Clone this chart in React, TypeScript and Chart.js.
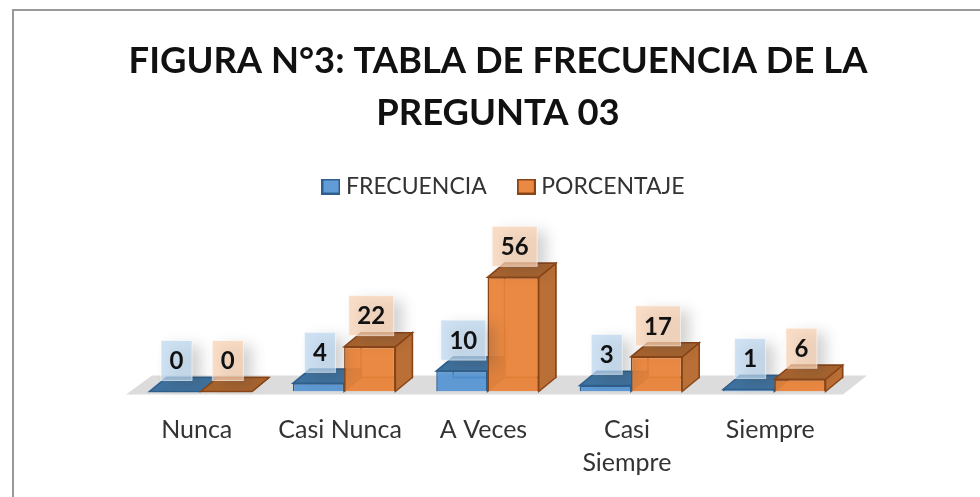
import React, { useEffect, useRef } from "react";
import { Chart, registerables } from "chart.js";

Chart.register(...registerables);

const categories = ["Nunca", "Casi Nunca", "A Veces", "Casi Siempre", "Siempre"];
const tickLines = [["Nunca"], ["Casi Nunca"], ["A Veces"], ["Casi", "Siempre"], ["Siempre"]];
const frecuencia = [0, 4, 10, 3, 1];
const porcentaje = [0, 22, 56, 17, 6];
const titleLines = ["FIGURA N°3: TABLA DE FRECUENCIA DE LA", "PREGUNTA 03"];

const FONT = "Lato, Carlito, 'Open Sans', sans-serif";
const DX = 17;
const DY = 14;

const looks = [
  { front: "rgba(80,145,210,0.9)", top: "#3f729f", side: "#3f729f", edge: "#2f5f8d", label: "rgba(189,215,238,0.72)" },
  { front: "rgba(232,130,55,0.94)", top: "#a8642f", side: "#b96f36", edge: "#8a4516", label: "rgba(248,208,178,0.72)" },
];

function swatch(fill: string, edge: string) {
  const c = document.createElement("canvas");
  c.width = 19;
  c.height = 16;
  const g = c.getContext("2d")!;
  g.fillStyle = fill;
  g.fillRect(1, 1, 17, 14);
  g.strokeStyle = edge;
  g.lineWidth = 2;
  g.strokeRect(1, 1, 17, 14);
  return c;
}

function poly(ctx: CanvasRenderingContext2D, pts: number[][], fill: string, edge: string | null) {
  ctx.beginPath();
  pts.forEach((p, i) => (i ? ctx.lineTo(p[0], p[1]) : ctx.moveTo(p[0], p[1])));
  ctx.closePath();
  ctx.fillStyle = fill;
  ctx.fill();
  if (edge) {
    ctx.strokeStyle = edge;
    ctx.lineWidth = 1.5;
    ctx.stroke();
  }
}

const scene = {
  id: "scene",
  beforeDraw(chart: any) {
    const { ctx, width, height } = chart;
    ctx.save();
    ctx.fillStyle = "#fff";
    ctx.fillRect(0, 0, width, height);
    ctx.strokeStyle = "#999";
    ctx.lineWidth = 2;
    ctx.beginPath();
    ctx.moveTo(13, height);
    ctx.lineTo(13, 10);
    ctx.lineTo(width, 10);
    ctx.stroke();
    ctx.restore();
  },
  afterLayout(chart: any) {
    chart.titleBlock.left = 0;
    chart.titleBlock.right = 996;
    chart.legend.left = 0;
    chart.legend.right = 1012;
  },
  beforeDatasetsDraw(chart: any) {
    const { ctx, scales } = chart;
    const y0 = scales.y.getPixelForValue(0);
    const l = scales.x.left;
    const r = scales.x.right;
    ctx.save();
    poly(ctx, [[l - 3, y0 + 3], [r - 3, y0 + 3], [r + 21, y0 - 16], [l + 23, y0 - 16]], "#dcdcdc", null);
    [0, 1].forEach((d) => {
      const look = looks[d];
      chart.getDatasetMeta(d).data.forEach((bar: any) => {
        const x1 = bar.x - bar.width / 2;
        const x2 = bar.x + bar.width / 2;
        const t = bar.y;
        poly(ctx, [[x1 + DX, y0 - DY], [x2 + DX, y0 - DY], [x2 + DX, t - DY], [x1 + DX, t - DY]], "rgba(255,255,255,0.05)", look.edge);
        poly(ctx, [[x2, y0], [x2 + DX, y0 - DY], [x2 + DX, t - DY], [x2, t]], look.side, look.edge);
        poly(ctx, [[x1, t], [x2, t], [x2 + DX, t - DY], [x1 + DX, t - DY]], look.top, look.edge);
      });
    });
    ctx.restore();
  },
  afterDatasetsDraw(chart: any) {
    const { ctx } = chart;
    ctx.save();
    [0, 1].forEach((d) => {
      const meta = chart.getDatasetMeta(d);
      const values = chart.data.datasets[d].data;
      meta.data.forEach((bar: any, i: number) => {
        const text = String(values[i]);
        const w = text.length > 1 ? 45 : 31;
        const bottom = bar.y - 11;
        const h = 40;
        const x = bar.x + 1.5 - w / 2;
        ctx.save();
        ctx.shadowColor = "rgba(60,60,60,0.32)";
        ctx.shadowBlur = 14;
        ctx.shadowOffsetX = 9;
        ctx.shadowOffsetY = 5;
        ctx.fillStyle = looks[d].label;
        ctx.fillRect(x, bottom - h, w, h);
        ctx.restore();
        ctx.strokeStyle = "rgba(255,255,255,0.55)";
        ctx.lineWidth = 1;
        ctx.strokeRect(x, bottom - h, w, h);
        ctx.fillStyle = "#111";
        ctx.font = `bold 24px ${FONT}`;
        ctx.textAlign = "center";
        ctx.textBaseline = "middle";
        ctx.fillText(text, bar.x + 1.5, bottom - h / 2 + 1);
      });
    });
    ctx.restore();
  },
};

export default function App() {
  const ref = useRef<HTMLCanvasElement>(null);
  useEffect(() => {
    const swatches = looks.map((l) => swatch(l.front, l.edge));
    const chart = new Chart(ref.current!, {
      type: "bar",
      data: {
        labels: categories,
        datasets: [
          { label: "FRECUENCIA", data: frecuencia, backgroundColor: looks[0].front, borderColor: looks[0].edge, borderWidth: 1.5, categoryPercentage: 0.715, barPercentage: 1 },
          { label: "PORCENTAJE", data: porcentaje, backgroundColor: looks[1].front, borderColor: looks[1].edge, borderWidth: 1.5, categoryPercentage: 0.715, barPercentage: 1 },
        ],
      },
      options: {
        responsive: false,
        animation: false,
        layout: { padding: { left: 129, right: 134, top: 0, bottom: 3.5 } },
        plugins: {
          tooltip: { enabled: false },
          title: {
            display: true,
            text: titleLines,
            color: "#111",
            font: { family: FONT, size: 36.4, weight: "bold", lineHeight: 52 / 36.4 },
            padding: { top: 35, bottom: 0 },
          },
          legend: {
            display: true,
            position: "top",
            labels: {
              color: "#333",
              font: { family: FONT, size: 23 },
              padding: 36,
              usePointStyle: true,
              pointStyleWidth: 7,
              generateLabels: (c: any) =>
                Chart.defaults.plugins.legend.labels.generateLabels(c).map((it: any, i: number) => ({ ...it, pointStyle: swatches[i] })),
            },
          },
        },
        scales: {
          x: {
            grid: { display: false },
            border: { display: false },
            ticks: {
              autoSkip: false,
              maxRotation: 0,
              minRotation: 0,
              padding: 14,
              labelOffset: -4,
              color: "#333",
              font: { family: FONT, size: 25, lineHeight: 33 / 25 },
              callback: (_v: any, i: number) => tickLines[i],
            },
          },
          y: { display: false, min: 0, max: 90 },
        },
      },
      plugins: [scene],
    } as any);
    return () => chart.destroy();
  }, []);
  return (
    <div style={{ position: "fixed", left: 0, top: 0, width: 980, height: 497 }}>
      <canvas ref={ref} width={980} height={497} style={{ display: "block" }} />
    </div>
  );
}
